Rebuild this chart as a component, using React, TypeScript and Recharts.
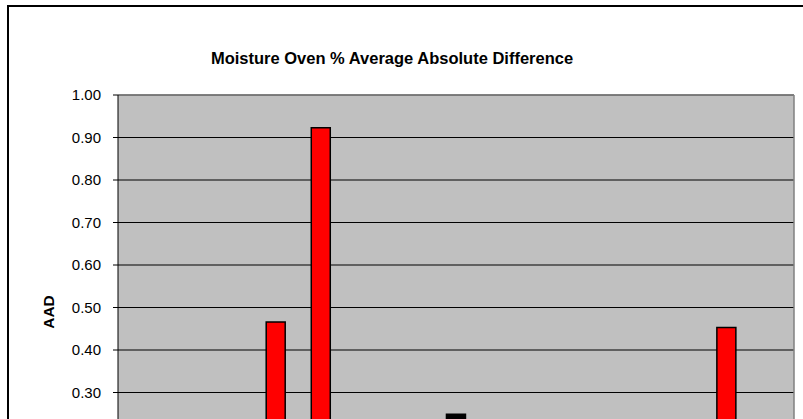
import React from 'react';
import { BarChart, Bar, XAxis, YAxis, CartesianGrid, Cell, ReferenceLine, Customized } from 'recharts';

const labs = ['1', '2', '3', '4', '5', '6', '7', '8', '9', '10', '11', '12', '13', '14', '15'];
const aadValues = [0.12, 0.09, 0.15, 0.466, 0.923, 0.11, 0.14, 0.249, 0.1, 0.13, 0.08, 0.16, 0.12, 0.453, 0.1];
const barColors = ['#C0C0C0', '#C0C0C0', '#C0C0C0', '#FF0000', '#FF0000', '#C0C0C0', '#C0C0C0', '#000000', '#C0C0C0', '#C0C0C0', '#C0C0C0', '#C0C0C0', '#C0C0C0', '#FF0000', '#C0C0C0'];
const yTicks = [0, 0.1, 0.2, 0.3, 0.4, 0.5, 0.6, 0.7, 0.8, 0.9, 1.0];

const chartTitle = 'Moisture Oven % Average Absolute Difference';
const yTitle = 'AAD';

const data = labs.map((lab, i) => ({ lab, aad: aadValues[i] }));

const FONT = '"Liberation Sans", Arial, Helvetica, sans-serif';

const Titles = () => (
  <g>
    <text x={392} y={64} textAnchor="middle" fontFamily={FONT} fontWeight="bold" fontSize={16.5} fill="#000">
      {chartTitle}
    </text>
    <text
      x={0}
      y={0}
      transform="translate(54,312) rotate(-90)"
      textAnchor="middle"
      fontFamily={FONT}
      fontWeight="bold"
      fontSize={15.5}
      fill="#000"
    >
      {yTitle}
    </text>
  </g>
);

const rightEdge = (props: any) => {
  const o = props && props.offset;
  return o ? [o.left + o.width] : [];
};

export default function App() {
  return (
    <div style={{ position: 'fixed', left: 0, top: 0, width: 803, height: 419, overflow: 'hidden', background: '#fff' }}>
      <div style={{ position: 'absolute', left: 7, top: 5, width: 796, height: 2, background: '#000' }} />
      <div style={{ position: 'absolute', left: 7, top: 5, width: 2, height: 414, background: '#000' }} />
      <div style={{ position: 'absolute', left: 0, top: 0 }}>
        <BarChart
          width={803}
          height={600}
          data={data}
          margin={{ top: 95, right: 9, bottom: 50, left: 0 }}
          barCategoryGap={0}
        >
          <CartesianGrid horizontal={true} vertical={false} stroke="#000" strokeOpacity={1} fill="#C0C0C0" fillOpacity={1} />
          <CartesianGrid
            horizontal={false}
            vertical={true}
            verticalCoordinatesGenerator={rightEdge}
            stroke="#808080"
            strokeWidth={1.5}
          />
          <XAxis dataKey="lab" height={30} interval={0} tick={{ fontFamily: FONT, fontSize: 13, fill: '#000' }} stroke="#000" />
          <YAxis
            width={118}
            domain={[0, 1]}
            ticks={yTicks}
            interval={0}
            tickFormatter={(v: number) => v.toFixed(2)}
            tickSize={5}
            tickMargin={12}
            tick={{ fontFamily: FONT, fontSize: 15, fill: '#000' }}
            stroke="#000"
          />
          <ReferenceLine y={1} stroke="#808080" strokeWidth={1.5} />
          <Bar dataKey="aad" barSize={19} stroke="#000" strokeWidth={1.5} isAnimationActive={false}>
            {data.map((d, i) => (
              <Cell key={d.lab} fill={barColors[i]} />
            ))}
          </Bar>
          <Customized component={<Titles />} />
        </BarChart>
      </div>
    </div>
  );
}
